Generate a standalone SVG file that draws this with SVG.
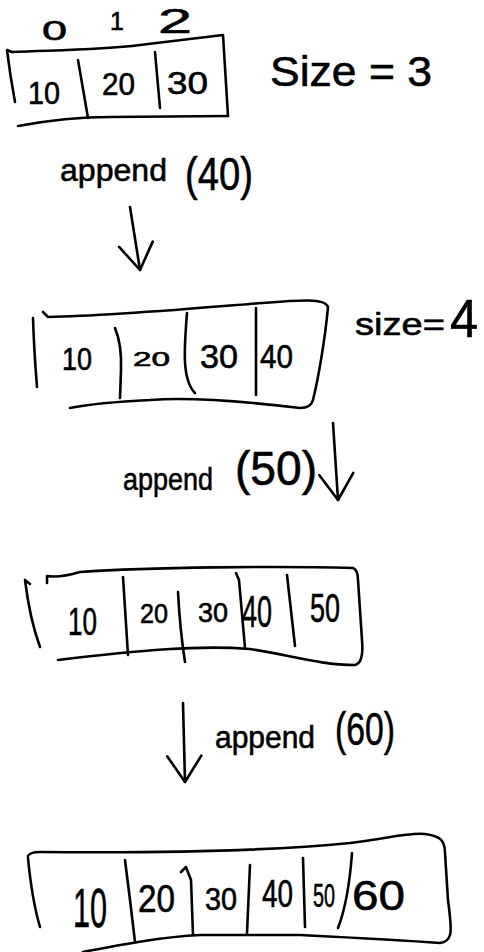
<svg xmlns="http://www.w3.org/2000/svg" width="484" height="952" viewBox="0 0 484 952">
  <style>
    .ink { fill: none; stroke: #000; stroke-width: 2.6; stroke-linecap: round; stroke-linejoin: round; }
    .t { font-family: "Liberation Sans", "DejaVu Sans", sans-serif; fill: #000; stroke: #000; stroke-width: 0.6; }
  </style>
  <defs>
    <marker id="vhead" markerUnits="userSpaceOnUse" viewBox="-32 -22 40 44" markerWidth="40" markerHeight="44" refX="0" refY="0" orient="auto">
      <path d="M-26,-17 L0,0 L-26,17" fill="none" stroke="#000" stroke-width="2.6" stroke-linecap="round" stroke-linejoin="round"/>
    </marker>
  </defs>
  <rect width="484" height="952" fill="#fff"/>

  <!-- array of 3 with indices -->
  <g id="array-1">
    <path class="ink" d="M12,52 L7,50 Q10,75 15,102"/>
    <path class="ink" d="M12,52 C60,50 100,50 140,45 C180,40 205,37 223,35 L228,116"/>
    <path class="ink" d="M18,126 C50,120 80,117 110,117 L228,116"/>
    <path class="ink" d="M78,60 L88,118"/>
    <path class="ink" d="M155,52 L160,108"/>
    <text class="t" font-size="31" x="28" y="104" textLength="32" lengthAdjust="spacingAndGlyphs">10</text>
    <text class="t" font-size="32" x="102" y="95" textLength="33" lengthAdjust="spacingAndGlyphs">20</text>
    <text class="t" font-size="31" x="167" y="94" textLength="41" lengthAdjust="spacingAndGlyphs">30</text>
    <text class="t" font-size="28" x="42" y="40" textLength="25" lengthAdjust="spacingAndGlyphs">0</text>
    <text class="t" font-size="25" x="110" y="30">1</text>
    <text class="t" font-size="35" x="158" y="33" textLength="34" lengthAdjust="spacingAndGlyphs">2</text>
  </g>
  <g id="label-size-3">
    <text class="t" font-size="42" x="270" y="86" textLength="162" lengthAdjust="spacingAndGlyphs">Size = 3</text>
  </g>

  <g id="op-append-40">
    <text class="t" font-size="32"><tspan x="60" y="181" textLength="107" lengthAdjust="spacingAndGlyphs">append</tspan><tspan x="185" y="190" font-size="46" textLength="68" lengthAdjust="spacingAndGlyphs">(40)</tspan></text>
  </g>

  <!-- array of 4 -->
  <g id="array-2">
    <path class="ink" d="M37,387 Q34,350 33,318"/>
    <path class="ink" d="M43,312 L48,317 C110,316 200,308 262,303 C300,300 325,298 328,307 C325,340 318,380 313,400 Q311,408 300,408 C250,402 190,397 150,400 C110,402 85,405 70,408"/>
    <path class="ink" d="M115,328 Q122,345 121,370 L120,398"/>
    <path class="ink" d="M187,313 C184,350 182,380 195,393"/>
    <path class="ink" d="M256,308 L256,395"/>
    <text class="t" font-size="32" x="62" y="370" textLength="30" lengthAdjust="spacingAndGlyphs">10</text>
    <text class="t" font-size="20" x="133" y="366" textLength="37" lengthAdjust="spacingAndGlyphs">20</text>
    <text class="t" font-size="34" x="200" y="368" textLength="38" lengthAdjust="spacingAndGlyphs">30</text>
    <text class="t" font-size="34" x="260" y="368" textLength="33" lengthAdjust="spacingAndGlyphs">40</text>
  </g>
  <g id="label-size-4">
    <text class="t" font-size="32"><tspan x="355" y="335" textLength="90" lengthAdjust="spacingAndGlyphs">size=</tspan><tspan x="450" y="337" font-size="54" textLength="28" lengthAdjust="spacingAndGlyphs">4</tspan></text>
  </g>

  <g id="op-append-50">
    <text class="t" font-size="32"><tspan x="123" y="490" textLength="90" lengthAdjust="spacingAndGlyphs">append</tspan><tspan x="235" y="485" font-size="48" textLength="82" lengthAdjust="spacingAndGlyphs">(50)</tspan></text>
  </g>

  <!-- array of 5 -->
  <g id="array-3">
    <path class="ink" d="M30,584 L25,580 Q30,620 40,647"/>
    <path class="ink" d="M47,583 L47,576 Q60,578 80,572 C150,567 280,566 353,568 Q358,570 358,580 L362,640 Q364,663 355,665 C320,665 290,655 250,649 C200,645 140,650 58,660"/>
    <path class="ink" d="M123,577 L128,655"/>
    <path class="ink" d="M178,592 Q180,630 185,662"/>
    <path class="ink" d="M236,573 L239,580 L245,648"/>
    <path class="ink" d="M287,575 L295,646"/>
    <text class="t" font-size="38" x="68" y="635" textLength="29" lengthAdjust="spacingAndGlyphs">10</text>
    <text class="t" font-size="28" x="140" y="623" textLength="28" lengthAdjust="spacingAndGlyphs">20</text>
    <text class="t" font-size="28" x="198" y="622" textLength="30" lengthAdjust="spacingAndGlyphs">30</text>
    <text class="t" font-size="44" x="242" y="627" textLength="30" lengthAdjust="spacingAndGlyphs">40</text>
    <text class="t" font-size="40" x="310" y="622" textLength="30" lengthAdjust="spacingAndGlyphs">50</text>
  </g>

  <g id="op-append-60">
    <text class="t" font-size="32"><tspan x="215" y="748" textLength="100" lengthAdjust="spacingAndGlyphs">append</tspan><tspan x="335" y="745" font-size="46" textLength="60" lengthAdjust="spacingAndGlyphs">(60)</tspan></text>
  </g>

  <!-- array of 6 -->
  <g id="array-4">
    <path class="ink" d="M28,858 Q32,900 40,927"/>
    <path class="ink" d="M28,856 Q30,852 40,852 C150,853 270,851 350,843 C390,838 410,832 425,834 C440,836 445,840 445,853 L448,900 Q452,930 450,935 Q448,942 440,943 C400,940 340,937 300,935 L200,935 C160,937 120,945 83,952"/>
    <path class="ink" d="M125,860 L130,900 L135,942"/>
    <path class="ink" d="M181,872 L186,867 L191,880 L193,935"/>
    <path class="ink" d="M250,865 L247,933"/>
    <path class="ink" d="M303,858 L305,927"/>
    <path class="ink" d="M352,853 C350,880 345,910 338,928"/>
    <text class="t" font-size="56" x="73" y="927" textLength="34" lengthAdjust="spacingAndGlyphs">10</text>
    <text class="t" font-size="38" x="138" y="912" textLength="37" lengthAdjust="spacingAndGlyphs">20</text>
    <text class="t" font-size="31" x="205" y="910" textLength="32" lengthAdjust="spacingAndGlyphs">30</text>
    <text class="t" font-size="38" x="262" y="907" textLength="31" lengthAdjust="spacingAndGlyphs">40</text>
    <text class="t" font-size="34" x="313" y="907" textLength="22" lengthAdjust="spacingAndGlyphs">50</text>
    <text class="t" font-size="42" x="352" y="910" textLength="53" lengthAdjust="spacingAndGlyphs">60</text>
  </g>

  <!-- transition arrows -->
  <g id="connectors">
    <path class="ink" d="M130,207 L140,270" marker-end="url(#vhead)"/>
    <path class="ink" d="M333,423 L338,500" marker-end="url(#vhead)"/>
    <path class="ink" d="M183,703 L185,782" marker-end="url(#vhead)"/>
  </g>
</svg>
